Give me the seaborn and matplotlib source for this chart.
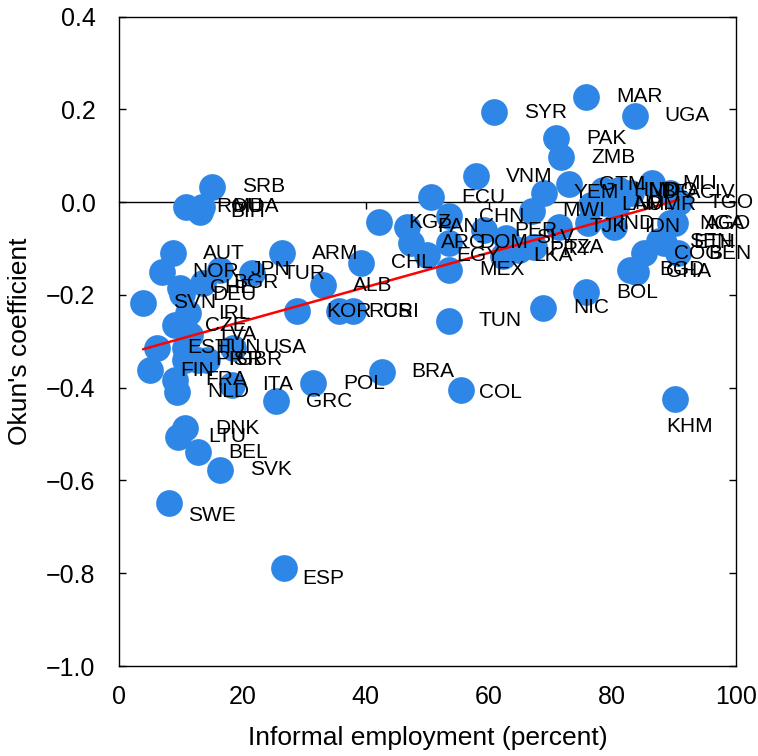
import numpy as np
import pandas as pd
import seaborn as sns
import matplotlib.pyplot as plt
from matplotlib.ticker import FuncFormatter

# Country codes, informal employment share (percent) and Okun's coefficient
countries = ["SRB", "ROU", "BIH", "MDA", "AUT", "NOR", "JPN", "BGR", "TUR", "ARM",
             "CHE", "DEU", "SVN", "IRL", "CZE", "LVA", "EST", "HUN", "USA", "PRT",
             "ISR", "GBR", "FIN", "FRA", "NLD", "ITA", "GRC", "POL", "BRA", "COL",
             "DNK", "LTU", "BEL", "SVK", "SWE", "ESP", "KOR", "RUS", "CRI", "ALB",
             "CHL", "KGZ", "PAN", "ARG", "EGY", "MEX", "CHN", "ECU", "DOM", "TUN",
             "VNM", "PER", "SLV", "LKA", "PRY", "TZA", "MWI", "YEM", "SYR", "PAK",
             "ZMB", "MAR", "UGA", "GTM", "NIC", "BOL", "TJK", "IND", "IDN", "HND",
             "MDG", "BFA", "MLI", "CIV", "TGO", "LAO", "NPL", "MMR", "NGA", "AGO",
             "SEN", "ETH", "COG", "BEN", "BGD", "GHA", "KHM"]
informal = [15.1, 10.9, 13.2, 13.5, 8.8, 7.0, 16.4, 13.7, 21.6, 26.5,
            9.9, 10.2, 3.9, 11.2, 9.1, 11.5, 6.2, 10.7, 18.5, 10.7,
            12.8, 14.3, 5.0, 9.1, 9.4, 18.4, 25.4, 31.5, 42.6, 55.4,
            10.7, 9.6, 12.8, 16.4, 8.1, 26.8, 28.8, 35.6, 37.9, 33.0,
            39.2, 42.1, 46.7, 47.3, 49.9, 53.5, 53.5, 50.6, 53.5, 53.5,
            57.9, 59.2, 62.8, 62.3, 64.9, 67.3, 67.0, 68.9, 60.8, 70.9,
            71.7, 75.8, 83.6, 73.0, 68.8, 75.8, 71.4, 76.1, 80.3, 78.5,
            81.0, 83.1, 86.5, 89.3, 90.8, 76.6, 78.7, 80.7, 89.3, 90.1,
            87.5, 88.3, 85.2, 90.7, 82.8, 83.9, 90.1]
okun = [0.033, -0.010, -0.021, -0.010, -0.110, -0.150, -0.146, -0.174, -0.153, -0.110,
        -0.185, -0.198, -0.217, -0.239, -0.265, -0.286, -0.314, -0.314, -0.314, -0.340,
        -0.340, -0.340, -0.362, -0.383, -0.409, -0.394, -0.429, -0.390, -0.366, -0.405,
        -0.487, -0.506, -0.539, -0.577, -0.649, -0.789, -0.235, -0.235, -0.235, -0.179,
        -0.131, -0.043, -0.053, -0.088, -0.114, -0.146, -0.030, 0.011, -0.088, -0.256,
        0.056, -0.060, -0.077, -0.116, -0.103, -0.097, -0.019, 0.020, 0.194, 0.138,
        0.097, 0.227, 0.186, 0.039, -0.228, -0.194, -0.053, -0.045, -0.053, 0.026,
        0.026, 0.020, 0.041, 0.020, 0.000, -0.006, -0.002, -0.006, -0.045, -0.045,
        -0.084, -0.088, -0.110, -0.110, -0.146, -0.150, -0.424]

df = pd.DataFrame({"country": countries, "informal": informal, "okun": okun})

# label placement (pixels from the marker centre)
default_offset = (30, 0)
label_offsets = {"SWE": (19, -12), "ESP": (18, -10), "COL": (18, -2), "KHM": (-8, -28)}

sns.set_style("ticks")
plt.rcParams["font.family"] = ["Liberation Sans", "DejaVu Sans"]
plt.rcParams.update({
    "axes.linewidth": 1.0,
    "axes.edgecolor": "black",
    "axes.labelcolor": "black",
    "text.color": "black",
    "xtick.color": "black",
    "ytick.color": "black",
})

fig = plt.figure(figsize=(7.58, 7.56), dpi=100)
ax = fig.add_axes([0.157, 0.119, 0.8136, 0.859])

sns.scatterplot(data=df, x="informal", y="okun", color="#2E86E6", s=370,
                linewidth=0, ax=ax, zorder=2)
sns.regplot(data=df, x="informal", y="okun", scatter=False, ci=None,
            color="red", line_kws={"lw": 1.8, "zorder": 3}, ax=ax)

for c, x, y in zip(countries, informal, okun):
    dx, dy = label_offsets.get(c, default_offset)
    ax.annotate(c, (x, y), xytext=(dx, dy), textcoords="offset pixels",
                ha="left", va="center", fontsize=15, color="black", zorder=4)

ymin, ymax = -1.0, 0.4
ax.set_xlim(0, 100)
ax.set_ylim(ymin, ymax)
ax.set_xticks(range(0, 101, 20))
ax.set_yticks(np.arange(-1.0, 0.41, 0.2))
ax.yaxis.set_major_formatter(
    FuncFormatter(lambda v, p: f"{round(v, 1) + 0.0:.1f}".replace("-", "\u2212")))
ax.tick_params(axis="y", direction="in", left=True, right=True, length=5,
               width=1.0, labelsize=18, pad=17)
ax.tick_params(axis="x", length=0, labelsize=18, pad=14)

# horizontal axis line through zero with its own ticks
zero_axis = ax.secondary_xaxis((0 - ymin) / (ymax - ymin))
zero_axis.set_xticks([20, 40, 60, 80])
zero_axis.tick_params(direction="in", length=5, width=1.0,
                      labelbottom=False, labeltop=False)

ax.set_xlabel("Informal employment (percent)", fontsize=19, labelpad=12)
ax.set_ylabel("Okun's coefficient", fontsize=19, labelpad=10)

fig.savefig("out.png", dpi=100)
plt.close(fig)
